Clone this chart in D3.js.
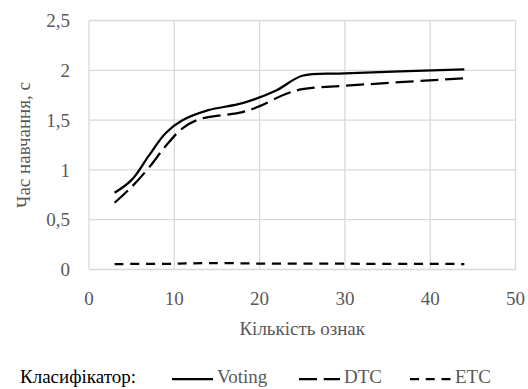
<!DOCTYPE html>
<html><head><meta charset="utf-8">
<script src="https://cdn.jsdelivr.net/npm/d3@7"></script>
<style>
svg text, text, svg, body { font-family: "Liberation Serif", "Times New Roman", Tinos !important; }
</style>
</head><body style="margin:0">
<script>
const xTicks = [0,10,20,30,40,50];
const yTicks = [0,0.5,1,1.5,2,2.5];
const yTickLabels = ["0","0,5","1","1,5","2","2,5"];
const votingX = [3,5,7,9,11,14,18,22,25,30,44];
const votingY = [0.77,0.9,1.14,1.37,1.5,1.6,1.67,1.8,1.945,1.97,2.01];
const dtcX = [3,5,7,9,11,13,18,20,23,25,30,44];
const dtcY = [0.67,0.83,1.02,1.24,1.42,1.51,1.58,1.64,1.76,1.81,1.845,1.92];
const etcX = [3,10,14,20,30,44];
const etcY = [0.055,0.058,0.065,0.06,0.058,0.055];
const seriesNames = ["Voting","DTC","ETC"];
const legendTitle = "Класифікатор:";
const xTitle = "Кількість ознак";
const yTitle = "Час навчання, с";

const W=528,H=389;
const FF='"Times New Roman"';
const svg=d3.select("body").append("svg").attr("width",W).attr("height",H)
 .style("display","block");
const x=d3.scaleLinear().domain([0,50]).range([89,515.5]);
const y=d3.scaleLinear().domain([0,2.5]).range([269.5,20.5]);
const grey="#595959";
const fs=19;

function T(sel){return sel.style("font-family",FF).attr("font-family","Times New Roman").attr("font-size",fs);}

const g=svg.append("g");
g.selectAll(".hg").data(yTicks).join("line")
 .attr("x1",x(0)).attr("x2",x(50)).attr("y1",d=>y(d)).attr("y2",d=>y(d))
 .attr("stroke","#d9d9d9").attr("stroke-width",1.3);
g.selectAll(".vg").data(xTicks).join("line")
 .attr("y1",y(0)).attr("y2",y(2.5)).attr("x1",d=>x(d)).attr("x2",d=>x(d))
 .attr("stroke","#d9d9d9").attr("stroke-width",1.3);

T(svg.selectAll(".yl").data(yTicks).join("text"))
 .attr("x",70).attr("y",d=>y(d)).attr("dy","0.35em").attr("text-anchor","end")
 .attr("fill",grey).text((d,i)=>yTickLabels[i]);
T(svg.selectAll(".xl").data(xTicks).join("text"))
 .attr("x",d=>x(d)).attr("y",305).attr("text-anchor","middle")
 .attr("fill",grey).text(d=>d);

T(svg.append("text")).attr("x",(x(0)+x(50))/2).attr("y",335).attr("text-anchor","middle")
 .attr("fill",grey).text(xTitle);
T(svg.append("text")).attr("transform",`translate(30,${(y(0)+y(2.5))/2}) rotate(-90)`)
 .attr("text-anchor","middle").attr("fill",grey).text(yTitle);

const line=d3.line().x(d=>x(d[0])).y(d=>y(d[1])).curve(d3.curveCatmullRom.alpha(0.5));
const series=[
 {pts:d3.zip(votingX,votingY),dash:null},
 {pts:d3.zip(dtcX,dtcY),dash:"18,6.75"},
 {pts:d3.zip(etcX,etcY),dash:"9,6.75"}
];
series.forEach(s=>{
 svg.append("path").attr("d",line(s.pts)).attr("fill","none").attr("stroke","#000")
  .attr("stroke-width",2.25).attr("stroke-dasharray",s.dash);
});

const ly=379;
T(svg.append("text")).attr("x",20).attr("y",383).attr("fill","#000").text(legendTitle);
const lx=[172,299,410];
series.forEach((s,i)=>{
 svg.append("line").attr("x1",lx[i]).attr("x2",lx[i]+41).attr("y1",ly).attr("y2",ly)
  .attr("stroke","#000").attr("stroke-width",2.25).attr("stroke-dasharray",s.dash);
 T(svg.append("text")).attr("x",lx[i]+45).attr("y",383).attr("fill",grey).text(seriesNames[i]);
});
</script>
</body></html>
